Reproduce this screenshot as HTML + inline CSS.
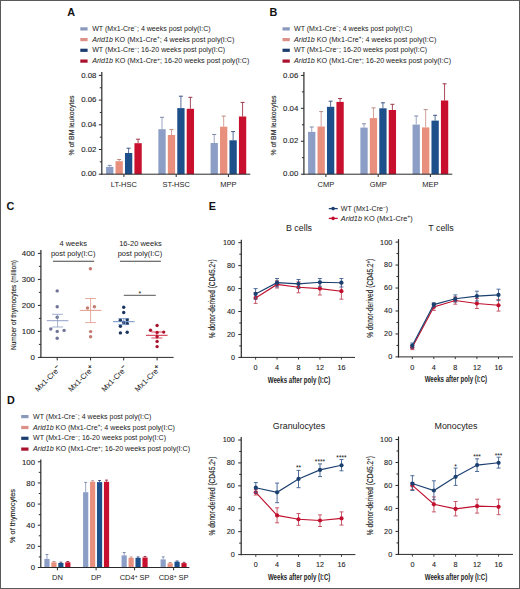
<!DOCTYPE html>
<html><head><meta charset="utf-8"><style>
html,body{margin:0;padding:0;background:#fff;}
body{width:520px;height:589px;position:relative;overflow:hidden;font-family:"Liberation Sans", sans-serif;}
</style></head><body>
<svg width="520" height="589" viewBox="0 0 520 589" style="position:absolute;left:0;top:0" font-family="'Liberation Sans', sans-serif">
<style>.tk{stroke:#2a2a2a;stroke-width:0.1px;}</style>
<rect x="0" y="0" width="520" height="589" fill="#fff"/>
<rect x="0.5" y="0.5" width="519" height="588" fill="none" stroke="#5a5a5a" stroke-width="1"/>
<text x="67.3" y="15.6" font-size="10.8" font-weight="bold" fill="#111">A</text>
<text x="269.4" y="15.6" font-size="10.8" font-weight="bold" fill="#111">B</text>
<text x="6.6" y="210.2" font-size="10.8" font-weight="bold" fill="#111">C</text>
<text x="6.9" y="404.4" font-size="10.8" font-weight="bold" fill="#111">D</text>
<text x="208.8" y="210.3" font-size="10.8" font-weight="bold" fill="#111">E</text>
<rect x="80.30" y="27.30" width="7.30" height="3.20" fill="#8a98bb"/>
<rect x="80.30" y="38.00" width="7.30" height="3.20" fill="#dc9088"/>
<rect x="80.30" y="48.70" width="7.30" height="3.20" fill="#1b3d6e"/>
<rect x="80.30" y="59.50" width="7.30" height="3.20" fill="#a8102c"/>
<text x="92.2" y="31.00" font-size="7" fill="#222" textLength="118.4" lengthAdjust="spacingAndGlyphs"><tspan>WT</tspan> (Mx1-Cre<tspan font-size="4.5" dy="-2.6">−</tspan><tspan dy="2.6">; 4 weeks post poly(I:C)</tspan></text>
<text x="92.2" y="41.70" font-size="7" fill="#222" textLength="142.2" lengthAdjust="spacingAndGlyphs"><tspan font-style="italic">Arid1b</tspan> KO (Mx1-Cre<tspan font-size="4.5" dy="-2.6">+</tspan><tspan dy="2.6">; 4 weeks post poly(I:C)</tspan></text>
<text x="92.2" y="52.40" font-size="7" fill="#222" textLength="133.0" lengthAdjust="spacingAndGlyphs"><tspan>WT</tspan> (Mx1-Cre<tspan font-size="4.5" dy="-2.6">−</tspan><tspan dy="2.6">; 16-20 weeks post poly(I:C)</tspan></text>
<text x="92.2" y="63.20" font-size="7" fill="#222" textLength="157.2" lengthAdjust="spacingAndGlyphs"><tspan font-style="italic">Arid1b</tspan> KO (Mx1-Cre<tspan font-size="4.5" dy="-2.6">+</tspan><tspan dy="2.6">; 16-20 weeks post poly(I:C)</tspan></text>
<line x1="101.80" y1="72.00" x2="101.80" y2="174.80" stroke="#2a2a2a" stroke-width="1.2"/>
<line x1="98.80" y1="174.20" x2="101.80" y2="174.20" stroke="#2a2a2a" stroke-width="1"/>
<text x="96.4" y="176.39999999999998" font-size="7.3" text-anchor="end" textLength="15.22" lengthAdjust="spacingAndGlyphs" fill="#222" class="tk">0.00</text>
<line x1="98.80" y1="149.50" x2="101.80" y2="149.50" stroke="#2a2a2a" stroke-width="1"/>
<text x="96.4" y="151.7" font-size="7.3" text-anchor="end" textLength="15.22" lengthAdjust="spacingAndGlyphs" fill="#222" class="tk">0.02</text>
<line x1="98.80" y1="124.80" x2="101.80" y2="124.80" stroke="#2a2a2a" stroke-width="1"/>
<text x="96.4" y="126.99999999999999" font-size="7.3" text-anchor="end" textLength="15.22" lengthAdjust="spacingAndGlyphs" fill="#222" class="tk">0.04</text>
<line x1="98.80" y1="100.10" x2="101.80" y2="100.10" stroke="#2a2a2a" stroke-width="1"/>
<text x="96.4" y="102.3" font-size="7.3" text-anchor="end" textLength="15.22" lengthAdjust="spacingAndGlyphs" fill="#222" class="tk">0.06</text>
<line x1="98.80" y1="75.40" x2="101.80" y2="75.40" stroke="#2a2a2a" stroke-width="1"/>
<text x="96.4" y="77.6" font-size="7.3" text-anchor="end" textLength="15.22" lengthAdjust="spacingAndGlyphs" fill="#222" class="tk">0.08</text>
<line x1="99.80" y1="161.85" x2="101.80" y2="161.85" stroke="#2a2a2a" stroke-width="1"/>
<line x1="99.80" y1="137.15" x2="101.80" y2="137.15" stroke="#2a2a2a" stroke-width="1"/>
<line x1="99.80" y1="112.45" x2="101.80" y2="112.45" stroke="#2a2a2a" stroke-width="1"/>
<line x1="99.80" y1="87.75" x2="101.80" y2="87.75" stroke="#2a2a2a" stroke-width="1"/>
<line x1="109.73" y1="165.40" x2="109.73" y2="166.90" stroke="#9aa6c4" stroke-width="1.0"/>
<line x1="107.73" y1="165.40" x2="111.73" y2="165.40" stroke="#7f8aa8" stroke-width="1.0"/>
<rect x="106.08" y="166.90" width="7.30" height="7.30" fill="#8c9ec6"/>
<line x1="119.18" y1="159.50" x2="119.18" y2="161.20" stroke="#d4a098" stroke-width="1.0"/>
<line x1="117.18" y1="159.50" x2="121.18" y2="159.50" stroke="#b88c84" stroke-width="1.0"/>
<rect x="115.53" y="161.20" width="7.30" height="13.00" fill="#e88f7e"/>
<line x1="128.62" y1="148.20" x2="128.62" y2="153.00" stroke="#5a6f98" stroke-width="1.0"/>
<line x1="126.62" y1="148.20" x2="130.62" y2="148.20" stroke="#3e5580" stroke-width="1.0"/>
<rect x="124.97" y="153.00" width="7.30" height="21.20" fill="#1d4f8b"/>
<line x1="138.08" y1="139.20" x2="138.08" y2="143.20" stroke="#a8485a" stroke-width="1.0"/>
<line x1="136.08" y1="139.20" x2="140.08" y2="139.20" stroke="#98384a" stroke-width="1.0"/>
<rect x="134.43" y="143.20" width="7.30" height="31.00" fill="#c8102e"/>
<line x1="162.02" y1="117.30" x2="162.02" y2="129.20" stroke="#9aa6c4" stroke-width="1.0"/>
<line x1="160.02" y1="117.30" x2="164.02" y2="117.30" stroke="#7f8aa8" stroke-width="1.0"/>
<rect x="158.37" y="129.20" width="7.30" height="45.00" fill="#8c9ec6"/>
<line x1="171.47" y1="129.60" x2="171.47" y2="135.00" stroke="#d4a098" stroke-width="1.0"/>
<line x1="169.47" y1="129.60" x2="173.47" y2="129.60" stroke="#b88c84" stroke-width="1.0"/>
<rect x="167.82" y="135.00" width="7.30" height="39.20" fill="#e88f7e"/>
<line x1="180.92" y1="96.20" x2="180.92" y2="108.10" stroke="#5a6f98" stroke-width="1.0"/>
<line x1="178.92" y1="96.20" x2="182.92" y2="96.20" stroke="#3e5580" stroke-width="1.0"/>
<rect x="177.27" y="108.10" width="7.30" height="66.10" fill="#1d4f8b"/>
<line x1="190.38" y1="97.30" x2="190.38" y2="108.80" stroke="#a8485a" stroke-width="1.0"/>
<line x1="188.38" y1="97.30" x2="192.38" y2="97.30" stroke="#98384a" stroke-width="1.0"/>
<rect x="186.72" y="108.80" width="7.30" height="65.40" fill="#c8102e"/>
<line x1="214.22" y1="134.50" x2="214.22" y2="143.00" stroke="#9aa6c4" stroke-width="1.0"/>
<line x1="212.22" y1="134.50" x2="216.22" y2="134.50" stroke="#7f8aa8" stroke-width="1.0"/>
<rect x="210.57" y="143.00" width="7.30" height="31.20" fill="#8c9ec6"/>
<line x1="223.68" y1="116.10" x2="223.68" y2="126.70" stroke="#d4a098" stroke-width="1.0"/>
<line x1="221.68" y1="116.10" x2="225.68" y2="116.10" stroke="#b88c84" stroke-width="1.0"/>
<rect x="220.03" y="126.70" width="7.30" height="47.50" fill="#e88f7e"/>
<line x1="233.12" y1="131.60" x2="233.12" y2="140.30" stroke="#5a6f98" stroke-width="1.0"/>
<line x1="231.12" y1="131.60" x2="235.12" y2="131.60" stroke="#3e5580" stroke-width="1.0"/>
<rect x="229.47" y="140.30" width="7.30" height="33.90" fill="#1d4f8b"/>
<line x1="242.58" y1="102.40" x2="242.58" y2="116.50" stroke="#a8485a" stroke-width="1.0"/>
<line x1="240.58" y1="102.40" x2="244.58" y2="102.40" stroke="#98384a" stroke-width="1.0"/>
<rect x="238.93" y="116.50" width="7.30" height="57.70" fill="#c8102e"/>
<line x1="101.50" y1="174.20" x2="250.30" y2="174.20" stroke="#2a2a2a" stroke-width="1"/>
<line x1="123.90" y1="174.20" x2="123.90" y2="177.00" stroke="#2a2a2a" stroke-width="1"/>
<line x1="176.20" y1="174.20" x2="176.20" y2="177.00" stroke="#2a2a2a" stroke-width="1"/>
<line x1="228.40" y1="174.20" x2="228.40" y2="177.00" stroke="#2a2a2a" stroke-width="1"/>
<text x="123.9" y="186.5" font-size="7.5" text-anchor="middle" fill="#222">LT-HSC</text>
<text x="176.2" y="186.5" font-size="7.5" text-anchor="middle" fill="#222">ST-HSC</text>
<text x="228.4" y="186.5" font-size="7.5" text-anchor="middle" fill="#222">MPP</text>
<text transform="translate(73.9,125.5) rotate(-90)" font-size="8" stroke="#333" stroke-width="0.15" text-anchor="middle" textLength="60" lengthAdjust="spacingAndGlyphs" fill="#222">% of BM leukocytes</text>
<rect x="282.50" y="27.30" width="7.30" height="3.20" fill="#8a98bb"/>
<rect x="282.50" y="38.00" width="7.30" height="3.20" fill="#dc9088"/>
<rect x="282.50" y="48.70" width="7.30" height="3.20" fill="#1b3d6e"/>
<rect x="282.50" y="59.50" width="7.30" height="3.20" fill="#a8102c"/>
<text x="294.0" y="31.00" font-size="7" fill="#222" textLength="118.3" lengthAdjust="spacingAndGlyphs"><tspan>WT</tspan> (Mx1-Cre<tspan font-size="4.5" dy="-2.6">−</tspan><tspan dy="2.6">; 4 weeks post poly(I:C)</tspan></text>
<text x="294.0" y="41.70" font-size="7" fill="#222" textLength="142.4" lengthAdjust="spacingAndGlyphs"><tspan font-style="italic">Arid1b</tspan> KO (Mx1-Cre<tspan font-size="4.5" dy="-2.6">+</tspan><tspan dy="2.6">; 4 weeks post poly(I:C)</tspan></text>
<text x="294.0" y="52.40" font-size="7" fill="#222" textLength="133.2" lengthAdjust="spacingAndGlyphs"><tspan>WT</tspan> (Mx1-Cre<tspan font-size="4.5" dy="-2.6">−</tspan><tspan dy="2.6">; 16-20 weeks post poly(I:C)</tspan></text>
<text x="294.0" y="63.20" font-size="7" fill="#222" textLength="157.2" lengthAdjust="spacingAndGlyphs"><tspan font-style="italic">Arid1b</tspan> KO (Mx1-Cre<tspan font-size="4.5" dy="-2.6">+</tspan><tspan dy="2.6">; 16-20 weeks post poly(I:C)</tspan></text>
<line x1="303.90" y1="72.00" x2="303.90" y2="174.80" stroke="#2a2a2a" stroke-width="1.2"/>
<line x1="300.90" y1="174.20" x2="303.90" y2="174.20" stroke="#2a2a2a" stroke-width="1"/>
<text x="298.3" y="176.39999999999998" font-size="7.3" text-anchor="end" textLength="15.22" lengthAdjust="spacingAndGlyphs" fill="#222" class="tk">0.00</text>
<line x1="300.90" y1="141.27" x2="303.90" y2="141.27" stroke="#2a2a2a" stroke-width="1"/>
<text x="298.3" y="143.46999999999997" font-size="7.3" text-anchor="end" textLength="15.22" lengthAdjust="spacingAndGlyphs" fill="#222" class="tk">0.02</text>
<line x1="300.90" y1="108.34" x2="303.90" y2="108.34" stroke="#2a2a2a" stroke-width="1"/>
<text x="298.3" y="110.53999999999999" font-size="7.3" text-anchor="end" textLength="15.22" lengthAdjust="spacingAndGlyphs" fill="#222" class="tk">0.04</text>
<line x1="300.90" y1="75.41" x2="303.90" y2="75.41" stroke="#2a2a2a" stroke-width="1"/>
<text x="298.3" y="77.61" font-size="7.3" text-anchor="end" textLength="15.22" lengthAdjust="spacingAndGlyphs" fill="#222" class="tk">0.06</text>
<line x1="301.90" y1="157.73" x2="303.90" y2="157.73" stroke="#2a2a2a" stroke-width="1"/>
<line x1="301.90" y1="124.80" x2="303.90" y2="124.80" stroke="#2a2a2a" stroke-width="1"/>
<line x1="301.90" y1="91.87" x2="303.90" y2="91.87" stroke="#2a2a2a" stroke-width="1"/>
<line x1="311.72" y1="127.00" x2="311.72" y2="131.90" stroke="#9aa6c4" stroke-width="1.0"/>
<line x1="309.72" y1="127.00" x2="313.72" y2="127.00" stroke="#7f8aa8" stroke-width="1.0"/>
<rect x="308.07" y="131.90" width="7.30" height="42.30" fill="#8c9ec6"/>
<line x1="321.17" y1="111.60" x2="321.17" y2="126.50" stroke="#d4a098" stroke-width="1.0"/>
<line x1="319.17" y1="111.60" x2="323.17" y2="111.60" stroke="#b88c84" stroke-width="1.0"/>
<rect x="317.52" y="126.50" width="7.30" height="47.70" fill="#e88f7e"/>
<line x1="330.62" y1="101.20" x2="330.62" y2="106.80" stroke="#5a6f98" stroke-width="1.0"/>
<line x1="328.62" y1="101.20" x2="332.62" y2="101.20" stroke="#3e5580" stroke-width="1.0"/>
<rect x="326.98" y="106.80" width="7.30" height="67.40" fill="#1d4f8b"/>
<line x1="340.07" y1="98.50" x2="340.07" y2="101.90" stroke="#a8485a" stroke-width="1.0"/>
<line x1="338.07" y1="98.50" x2="342.07" y2="98.50" stroke="#98384a" stroke-width="1.0"/>
<rect x="336.43" y="101.90" width="7.30" height="72.30" fill="#c8102e"/>
<line x1="364.02" y1="123.80" x2="364.02" y2="127.60" stroke="#9aa6c4" stroke-width="1.0"/>
<line x1="362.02" y1="123.80" x2="366.02" y2="123.80" stroke="#7f8aa8" stroke-width="1.0"/>
<rect x="360.38" y="127.60" width="7.30" height="46.60" fill="#8c9ec6"/>
<line x1="373.47" y1="107.90" x2="373.47" y2="118.10" stroke="#d4a098" stroke-width="1.0"/>
<line x1="371.47" y1="107.90" x2="375.47" y2="107.90" stroke="#b88c84" stroke-width="1.0"/>
<rect x="369.82" y="118.10" width="7.30" height="56.10" fill="#e88f7e"/>
<line x1="382.93" y1="102.80" x2="382.93" y2="108.30" stroke="#5a6f98" stroke-width="1.0"/>
<line x1="380.93" y1="102.80" x2="384.93" y2="102.80" stroke="#3e5580" stroke-width="1.0"/>
<rect x="379.28" y="108.30" width="7.30" height="65.90" fill="#1d4f8b"/>
<line x1="392.38" y1="104.30" x2="392.38" y2="110.00" stroke="#a8485a" stroke-width="1.0"/>
<line x1="390.38" y1="104.30" x2="394.38" y2="104.30" stroke="#98384a" stroke-width="1.0"/>
<rect x="388.73" y="110.00" width="7.30" height="64.20" fill="#c8102e"/>
<line x1="416.22" y1="116.00" x2="416.22" y2="124.60" stroke="#9aa6c4" stroke-width="1.0"/>
<line x1="414.22" y1="116.00" x2="418.22" y2="116.00" stroke="#7f8aa8" stroke-width="1.0"/>
<rect x="412.57" y="124.60" width="7.30" height="49.60" fill="#8c9ec6"/>
<line x1="425.67" y1="109.60" x2="425.67" y2="127.40" stroke="#d4a098" stroke-width="1.0"/>
<line x1="423.67" y1="109.60" x2="427.67" y2="109.60" stroke="#b88c84" stroke-width="1.0"/>
<rect x="422.02" y="127.40" width="7.30" height="46.80" fill="#e88f7e"/>
<line x1="435.12" y1="115.30" x2="435.12" y2="120.60" stroke="#5a6f98" stroke-width="1.0"/>
<line x1="433.12" y1="115.30" x2="437.12" y2="115.30" stroke="#3e5580" stroke-width="1.0"/>
<rect x="431.48" y="120.60" width="7.30" height="53.60" fill="#1d4f8b"/>
<line x1="444.57" y1="83.80" x2="444.57" y2="100.50" stroke="#a8485a" stroke-width="1.0"/>
<line x1="442.57" y1="83.80" x2="446.57" y2="83.80" stroke="#98384a" stroke-width="1.0"/>
<rect x="440.93" y="100.50" width="7.30" height="73.70" fill="#c8102e"/>
<line x1="303.90" y1="174.20" x2="452.30" y2="174.20" stroke="#2a2a2a" stroke-width="1"/>
<line x1="325.90" y1="174.20" x2="325.90" y2="177.00" stroke="#2a2a2a" stroke-width="1"/>
<line x1="378.20" y1="174.20" x2="378.20" y2="177.00" stroke="#2a2a2a" stroke-width="1"/>
<line x1="430.40" y1="174.20" x2="430.40" y2="177.00" stroke="#2a2a2a" stroke-width="1"/>
<text x="325.9" y="186.5" font-size="7.5" text-anchor="middle" fill="#222">CMP</text>
<text x="378.2" y="186.5" font-size="7.5" text-anchor="middle" fill="#222">GMP</text>
<text x="430.4" y="186.5" font-size="7.5" text-anchor="middle" fill="#222">MEP</text>
<text transform="translate(276.0,125.5) rotate(-90)" font-size="8" stroke="#333" stroke-width="0.15" text-anchor="middle" textLength="60" lengthAdjust="spacingAndGlyphs" fill="#222">% of BM leukocytes</text>
<line x1="40.90" y1="250.00" x2="40.90" y2="358.00" stroke="#2a2a2a" stroke-width="1.2"/>
<line x1="37.90" y1="357.40" x2="40.90" y2="357.40" stroke="#2a2a2a" stroke-width="1"/>
<text x="35.0" y="360.0" font-size="7.4" text-anchor="end" textLength="4.40" lengthAdjust="spacingAndGlyphs" fill="#222" class="tk">0</text>
<line x1="37.90" y1="331.40" x2="40.90" y2="331.40" stroke="#2a2a2a" stroke-width="1"/>
<text x="35.0" y="334.0" font-size="7.4" text-anchor="end" textLength="13.20" lengthAdjust="spacingAndGlyphs" fill="#222" class="tk">100</text>
<line x1="37.90" y1="305.40" x2="40.90" y2="305.40" stroke="#2a2a2a" stroke-width="1"/>
<text x="35.0" y="308.0" font-size="7.4" text-anchor="end" textLength="13.20" lengthAdjust="spacingAndGlyphs" fill="#222" class="tk">200</text>
<line x1="37.90" y1="279.40" x2="40.90" y2="279.40" stroke="#2a2a2a" stroke-width="1"/>
<text x="35.0" y="282.0" font-size="7.4" text-anchor="end" textLength="13.20" lengthAdjust="spacingAndGlyphs" fill="#222" class="tk">300</text>
<line x1="37.90" y1="253.40" x2="40.90" y2="253.40" stroke="#2a2a2a" stroke-width="1"/>
<text x="35.0" y="255.99999999999997" font-size="7.4" text-anchor="end" textLength="13.20" lengthAdjust="spacingAndGlyphs" fill="#222" class="tk">400</text>
<line x1="38.90" y1="344.40" x2="40.90" y2="344.40" stroke="#2a2a2a" stroke-width="1"/>
<line x1="38.90" y1="318.40" x2="40.90" y2="318.40" stroke="#2a2a2a" stroke-width="1"/>
<line x1="38.90" y1="292.40" x2="40.90" y2="292.40" stroke="#2a2a2a" stroke-width="1"/>
<line x1="38.90" y1="266.40" x2="40.90" y2="266.40" stroke="#2a2a2a" stroke-width="1"/>
<line x1="40.50" y1="357.40" x2="173.60" y2="357.40" stroke="#2a2a2a" stroke-width="1"/>
<line x1="57.20" y1="357.40" x2="57.20" y2="360.40" stroke="#2a2a2a" stroke-width="1"/>
<line x1="90.60" y1="357.40" x2="90.60" y2="360.40" stroke="#2a2a2a" stroke-width="1"/>
<line x1="123.70" y1="357.40" x2="123.70" y2="360.40" stroke="#2a2a2a" stroke-width="1"/>
<line x1="157.10" y1="357.40" x2="157.10" y2="360.40" stroke="#2a2a2a" stroke-width="1"/>
<text transform="translate(15.6,305) rotate(-90)" font-size="7.8" stroke="#333" stroke-width="0.15" text-anchor="middle" textLength="90" lengthAdjust="spacingAndGlyphs" fill="#222">Number of thymocytes (million)</text>
<text x="73.2" y="246" font-size="7.5" text-anchor="middle" fill="#222">4 weeks</text>
<text x="73.2" y="255.6" font-size="7.5" text-anchor="middle" fill="#222">post poly(I:C)</text>
<line x1="52.90" y1="261.30" x2="94.20" y2="261.30" stroke="#444" stroke-width="1.1"/>
<text x="140.4" y="246.1" font-size="7.5" text-anchor="middle" fill="#222">16-20 weeks</text>
<text x="140.0" y="255.8" font-size="7.5" text-anchor="middle" fill="#222">post poly(I:C)</text>
<line x1="119.90" y1="261.20" x2="160.90" y2="261.20" stroke="#444" stroke-width="1.1"/>
<line x1="123.80" y1="295.30" x2="155.80" y2="295.30" stroke="#555" stroke-width="1.0"/>
<text x="139.8" y="296.0" font-size="6.8" text-anchor="middle" fill="#111">*</text>
<circle cx="57.20" cy="290.90" r="1.7" fill="#6f7396"/>
<circle cx="57.20" cy="306.80" r="1.7" fill="#6f7396"/>
<circle cx="57.20" cy="317.20" r="1.7" fill="#6f7396"/>
<circle cx="50.80" cy="329.00" r="1.7" fill="#6f7396"/>
<circle cx="57.20" cy="331.40" r="1.7" fill="#6f7396"/>
<circle cx="64.10" cy="330.40" r="1.7" fill="#6f7396"/>
<circle cx="57.20" cy="338.20" r="1.7" fill="#6f7396"/>
<circle cx="90.40" cy="268.70" r="1.7" fill="#c27b70"/>
<circle cx="94.40" cy="306.80" r="1.7" fill="#c27b70"/>
<circle cx="87.50" cy="308.00" r="1.7" fill="#c27b70"/>
<circle cx="90.60" cy="331.60" r="1.7" fill="#c27b70"/>
<circle cx="90.60" cy="336.80" r="1.7" fill="#c27b70"/>
<circle cx="123.70" cy="307.30" r="1.7" fill="#1b355f"/>
<circle cx="123.70" cy="312.50" r="1.7" fill="#1b355f"/>
<circle cx="120.40" cy="320.30" r="1.7" fill="#1b355f"/>
<circle cx="127.20" cy="319.80" r="1.7" fill="#1b355f"/>
<circle cx="123.70" cy="322.50" r="1.7" fill="#1b355f"/>
<circle cx="120.40" cy="326.30" r="1.7" fill="#1b355f"/>
<circle cx="127.20" cy="323.40" r="1.7" fill="#1b355f"/>
<circle cx="120.40" cy="332.90" r="1.7" fill="#1b355f"/>
<circle cx="127.20" cy="332.20" r="1.7" fill="#1b355f"/>
<circle cx="157.10" cy="325.50" r="1.7" fill="#a8132e"/>
<circle cx="150.50" cy="330.20" r="1.7" fill="#a8132e"/>
<circle cx="157.10" cy="332.40" r="1.7" fill="#a8132e"/>
<circle cx="163.70" cy="332.10" r="1.7" fill="#a8132e"/>
<circle cx="157.10" cy="336.70" r="1.7" fill="#a8132e"/>
<circle cx="157.10" cy="341.40" r="1.7" fill="#a8132e"/>
<circle cx="157.10" cy="346.60" r="1.7" fill="#a8132e"/>
<line x1="46.80" y1="320.70" x2="68.40" y2="320.70" stroke="#8595c0" stroke-width="0.9"/>
<line x1="57.60" y1="314.30" x2="57.60" y2="327.00" stroke="#8595c0" stroke-width="0.75"/>
<line x1="52.10" y1="314.30" x2="63.10" y2="314.30" stroke="#8595c0" stroke-width="0.75"/>
<line x1="52.10" y1="327.00" x2="63.10" y2="327.00" stroke="#8595c0" stroke-width="0.75"/>
<line x1="79.80" y1="310.40" x2="101.40" y2="310.40" stroke="#e0907e" stroke-width="0.9"/>
<line x1="90.60" y1="298.50" x2="90.60" y2="322.60" stroke="#e0907e" stroke-width="0.75"/>
<line x1="85.10" y1="298.50" x2="96.10" y2="298.50" stroke="#e0907e" stroke-width="0.75"/>
<line x1="85.10" y1="322.60" x2="96.10" y2="322.60" stroke="#e0907e" stroke-width="0.75"/>
<line x1="113.00" y1="321.70" x2="134.60" y2="321.70" stroke="#5f86bd" stroke-width="0.9"/>
<line x1="123.80" y1="318.60" x2="123.80" y2="324.60" stroke="#5f86bd" stroke-width="0.75"/>
<line x1="118.30" y1="318.60" x2="129.30" y2="318.60" stroke="#5f86bd" stroke-width="0.75"/>
<line x1="118.30" y1="324.60" x2="129.30" y2="324.60" stroke="#5f86bd" stroke-width="0.75"/>
<line x1="146.00" y1="335.30" x2="167.60" y2="335.30" stroke="#c8102e" stroke-width="0.9"/>
<line x1="156.80" y1="332.00" x2="156.80" y2="338.00" stroke="#c8102e" stroke-width="0.75"/>
<line x1="151.30" y1="332.00" x2="162.30" y2="332.00" stroke="#c8102e" stroke-width="0.75"/>
<line x1="151.30" y1="338.00" x2="162.30" y2="338.00" stroke="#c8102e" stroke-width="0.75"/>
<text transform="translate(61.2,369.0) rotate(-45)" font-size="7.6" text-anchor="end" fill="#222">Mx1-Cre<tspan font-size="6.4" dy="-2.9" stroke="#222" stroke-width="0.25">−</tspan></text>
<text transform="translate(94.6,369.0) rotate(-45)" font-size="7.6" text-anchor="end" fill="#222">Mx1-Cre<tspan font-size="6.4" dy="-2.9" stroke="#222" stroke-width="0.25">+</tspan></text>
<text transform="translate(127.7,369.0) rotate(-45)" font-size="7.6" text-anchor="end" fill="#222">Mx1-Cre<tspan font-size="6.4" dy="-2.9" stroke="#222" stroke-width="0.25">−</tspan></text>
<text transform="translate(161.1,369.0) rotate(-45)" font-size="7.6" text-anchor="end" fill="#222">Mx1-Cre<tspan font-size="6.4" dy="-2.9" stroke="#222" stroke-width="0.25">+</tspan></text>
<rect x="21.20" y="415.00" width="7.30" height="3.20" fill="#8a98bb"/>
<rect x="21.20" y="425.90" width="7.30" height="3.20" fill="#dc9088"/>
<rect x="21.20" y="436.70" width="7.30" height="3.20" fill="#1b3d6e"/>
<rect x="21.20" y="447.50" width="7.30" height="3.20" fill="#a8102c"/>
<text x="33.0" y="418.70" font-size="7" fill="#222" textLength="118.4" lengthAdjust="spacingAndGlyphs"><tspan>WT</tspan> (Mx1-Cre<tspan font-size="4.5" dy="-2.6">−</tspan><tspan dy="2.6">; 4 weeks post poly(I:C)</tspan></text>
<text x="33.0" y="429.60" font-size="7" fill="#222" textLength="142.0" lengthAdjust="spacingAndGlyphs"><tspan font-style="italic">Arid1b</tspan> KO (Mx1-Cre<tspan font-size="4.5" dy="-2.6">+</tspan><tspan dy="2.6">; 4 weeks post poly(I:C)</tspan></text>
<text x="33.0" y="440.40" font-size="7" fill="#222" textLength="133.0" lengthAdjust="spacingAndGlyphs"><tspan>WT</tspan> (Mx1-Cre<tspan font-size="4.5" dy="-2.6">−</tspan><tspan dy="2.6">; 16-20 weeks post poly(I:C)</tspan></text>
<text x="33.0" y="451.20" font-size="7" fill="#222" textLength="157.2" lengthAdjust="spacingAndGlyphs"><tspan font-style="italic">Arid1b</tspan> KO (Mx1-Cre<tspan font-size="4.5" dy="-2.6">+</tspan><tspan dy="2.6">; 16-20 weeks post poly(I:C)</tspan></text>
<line x1="40.80" y1="459.40" x2="40.80" y2="568.10" stroke="#2a2a2a" stroke-width="1.2"/>
<line x1="37.80" y1="567.50" x2="40.80" y2="567.50" stroke="#2a2a2a" stroke-width="1"/>
<text x="35.0" y="570.3" font-size="7.4" text-anchor="end" textLength="4.33" lengthAdjust="spacingAndGlyphs" fill="#222" class="tk">0</text>
<line x1="37.80" y1="546.36" x2="40.80" y2="546.36" stroke="#2a2a2a" stroke-width="1"/>
<text x="35.0" y="549.16" font-size="7.4" text-anchor="end" textLength="8.66" lengthAdjust="spacingAndGlyphs" fill="#222" class="tk">20</text>
<line x1="37.80" y1="525.22" x2="40.80" y2="525.22" stroke="#2a2a2a" stroke-width="1"/>
<text x="35.0" y="528.02" font-size="7.4" text-anchor="end" textLength="8.66" lengthAdjust="spacingAndGlyphs" fill="#222" class="tk">40</text>
<line x1="37.80" y1="504.08" x2="40.80" y2="504.08" stroke="#2a2a2a" stroke-width="1"/>
<text x="35.0" y="506.88" font-size="7.4" text-anchor="end" textLength="8.66" lengthAdjust="spacingAndGlyphs" fill="#222" class="tk">60</text>
<line x1="37.80" y1="482.94" x2="40.80" y2="482.94" stroke="#2a2a2a" stroke-width="1"/>
<text x="35.0" y="485.74" font-size="7.4" text-anchor="end" textLength="8.66" lengthAdjust="spacingAndGlyphs" fill="#222" class="tk">80</text>
<line x1="37.80" y1="461.80" x2="40.80" y2="461.80" stroke="#2a2a2a" stroke-width="1"/>
<text x="35.0" y="464.6" font-size="7.4" text-anchor="end" textLength="12.99" lengthAdjust="spacingAndGlyphs" fill="#222" class="tk">100</text>
<line x1="38.80" y1="556.93" x2="40.80" y2="556.93" stroke="#2a2a2a" stroke-width="1"/>
<line x1="38.80" y1="535.79" x2="40.80" y2="535.79" stroke="#2a2a2a" stroke-width="1"/>
<line x1="38.80" y1="514.65" x2="40.80" y2="514.65" stroke="#2a2a2a" stroke-width="1"/>
<line x1="38.80" y1="493.51" x2="40.80" y2="493.51" stroke="#2a2a2a" stroke-width="1"/>
<line x1="38.80" y1="472.37" x2="40.80" y2="472.37" stroke="#2a2a2a" stroke-width="1"/>
<line x1="46.97" y1="554.50" x2="46.97" y2="558.90" stroke="#9aa6c4" stroke-width="1.0"/>
<line x1="45.57" y1="554.50" x2="48.37" y2="554.50" stroke="#7f8aa8" stroke-width="1.0"/>
<rect x="44.37" y="558.90" width="5.20" height="8.60" fill="#8c9ec6"/>
<line x1="53.92" y1="561.50" x2="53.92" y2="562.30" stroke="#d4a098" stroke-width="1.0"/>
<line x1="52.52" y1="561.50" x2="55.32" y2="561.50" stroke="#b88c84" stroke-width="1.0"/>
<rect x="51.32" y="562.30" width="5.20" height="5.20" fill="#e88f7e"/>
<line x1="60.88" y1="562.20" x2="60.88" y2="563.00" stroke="#5a6f98" stroke-width="1.0"/>
<line x1="59.48" y1="562.20" x2="62.27" y2="562.20" stroke="#3e5580" stroke-width="1.0"/>
<rect x="58.27" y="563.00" width="5.20" height="4.50" fill="#1d4f8b"/>
<line x1="67.83" y1="561.50" x2="67.83" y2="562.30" stroke="#a8485a" stroke-width="1.0"/>
<line x1="66.42" y1="561.50" x2="69.23" y2="561.50" stroke="#98384a" stroke-width="1.0"/>
<rect x="65.23" y="562.30" width="5.20" height="5.20" fill="#c8102e"/>
<line x1="85.67" y1="482.40" x2="85.67" y2="492.20" stroke="#9aa6c4" stroke-width="1.0"/>
<line x1="84.27" y1="482.40" x2="87.08" y2="482.40" stroke="#7f8aa8" stroke-width="1.0"/>
<rect x="83.08" y="492.20" width="5.20" height="75.30" fill="#8c9ec6"/>
<line x1="92.62" y1="480.80" x2="92.62" y2="481.80" stroke="#d4a098" stroke-width="1.0"/>
<line x1="91.22" y1="480.80" x2="94.03" y2="480.80" stroke="#b88c84" stroke-width="1.0"/>
<rect x="90.03" y="481.80" width="5.20" height="85.70" fill="#e88f7e"/>
<line x1="99.57" y1="480.50" x2="99.57" y2="482.10" stroke="#5a6f98" stroke-width="1.0"/>
<line x1="98.17" y1="480.50" x2="100.97" y2="480.50" stroke="#3e5580" stroke-width="1.0"/>
<rect x="96.97" y="482.10" width="5.20" height="85.40" fill="#1d4f8b"/>
<line x1="106.52" y1="480.10" x2="106.52" y2="481.80" stroke="#a8485a" stroke-width="1.0"/>
<line x1="105.12" y1="480.10" x2="107.92" y2="480.10" stroke="#98384a" stroke-width="1.0"/>
<rect x="103.92" y="481.80" width="5.20" height="85.70" fill="#c8102e"/>
<line x1="124.17" y1="552.50" x2="124.17" y2="555.40" stroke="#9aa6c4" stroke-width="1.0"/>
<line x1="122.77" y1="552.50" x2="125.58" y2="552.50" stroke="#7f8aa8" stroke-width="1.0"/>
<rect x="121.58" y="555.40" width="5.20" height="12.10" fill="#8c9ec6"/>
<line x1="131.12" y1="557.00" x2="131.12" y2="557.90" stroke="#d4a098" stroke-width="1.0"/>
<line x1="129.72" y1="557.00" x2="132.53" y2="557.00" stroke="#b88c84" stroke-width="1.0"/>
<rect x="128.53" y="557.90" width="5.20" height="9.60" fill="#e88f7e"/>
<line x1="138.07" y1="557.00" x2="138.07" y2="557.90" stroke="#5a6f98" stroke-width="1.0"/>
<line x1="136.67" y1="557.00" x2="139.47" y2="557.00" stroke="#3e5580" stroke-width="1.0"/>
<rect x="135.47" y="557.90" width="5.20" height="9.60" fill="#1d4f8b"/>
<line x1="145.03" y1="556.50" x2="145.03" y2="557.50" stroke="#a8485a" stroke-width="1.0"/>
<line x1="143.62" y1="556.50" x2="146.43" y2="556.50" stroke="#98384a" stroke-width="1.0"/>
<rect x="142.43" y="557.50" width="5.20" height="10.00" fill="#c8102e"/>
<line x1="163.17" y1="556.90" x2="163.17" y2="559.40" stroke="#9aa6c4" stroke-width="1.0"/>
<line x1="161.77" y1="556.90" x2="164.57" y2="556.90" stroke="#7f8aa8" stroke-width="1.0"/>
<rect x="160.57" y="559.40" width="5.20" height="8.10" fill="#8c9ec6"/>
<line x1="170.12" y1="562.50" x2="170.12" y2="563.30" stroke="#d4a098" stroke-width="1.0"/>
<line x1="168.72" y1="562.50" x2="171.53" y2="562.50" stroke="#b88c84" stroke-width="1.0"/>
<rect x="167.53" y="563.30" width="5.20" height="4.20" fill="#e88f7e"/>
<line x1="177.07" y1="561.00" x2="177.07" y2="561.70" stroke="#5a6f98" stroke-width="1.0"/>
<line x1="175.67" y1="561.00" x2="178.47" y2="561.00" stroke="#3e5580" stroke-width="1.0"/>
<rect x="174.47" y="561.70" width="5.20" height="5.80" fill="#1d4f8b"/>
<line x1="184.03" y1="562.30" x2="184.03" y2="563.10" stroke="#a8485a" stroke-width="1.0"/>
<line x1="182.62" y1="562.30" x2="185.43" y2="562.30" stroke="#98384a" stroke-width="1.0"/>
<rect x="181.43" y="563.10" width="5.20" height="4.40" fill="#c8102e"/>
<line x1="40.80" y1="567.50" x2="189.40" y2="567.50" stroke="#2a2a2a" stroke-width="1"/>
<line x1="57.40" y1="567.50" x2="57.40" y2="570.30" stroke="#2a2a2a" stroke-width="1"/>
<line x1="96.10" y1="567.50" x2="96.10" y2="570.30" stroke="#2a2a2a" stroke-width="1"/>
<line x1="134.60" y1="567.50" x2="134.60" y2="570.30" stroke="#2a2a2a" stroke-width="1"/>
<line x1="173.60" y1="567.50" x2="173.60" y2="570.30" stroke="#2a2a2a" stroke-width="1"/>
<text x="57.4" y="580.3" font-size="7.5" text-anchor="middle" fill="#222">DN</text>
<text x="96.1" y="580.3" font-size="7.5" text-anchor="middle" fill="#222">DP</text>
<text x="134.6" y="580.3" font-size="7.5" text-anchor="middle" fill="#222">CD4<tspan font-size="4.8" dy="-2.8">+</tspan><tspan dy="2.8"> SP</tspan></text>
<text x="173.6" y="580.3" font-size="7.5" text-anchor="middle" fill="#222">CD8<tspan font-size="4.8" dy="-2.8">+</tspan><tspan dy="2.8"> SP</tspan></text>
<text transform="translate(15.2,516) rotate(-90)" font-size="7.8" stroke="#333" stroke-width="0.15" text-anchor="middle" textLength="54" lengthAdjust="spacingAndGlyphs" fill="#222">% of thymocytes</text>
<line x1="328.80" y1="208.60" x2="337.70" y2="208.60" stroke="#1b4070" stroke-width="1.3"/>
<circle cx="333.10" cy="208.60" r="1.8" fill="#1b4070"/>
<text x="340.8" y="210.79999999999998" font-size="6.4" fill="#222" textLength="47.4" lengthAdjust="spacingAndGlyphs">WT (Mx1-Cre<tspan font-size="4.5" dy="-2.3">−</tspan><tspan dy="2.3">)</tspan></text>
<line x1="328.80" y1="218.40" x2="337.70" y2="218.40" stroke="#c0102e" stroke-width="1.3"/>
<circle cx="333.10" cy="218.40" r="1.8" fill="#c0102e"/>
<text x="340.8" y="220.6" font-size="6.4" fill="#222" textLength="72.0" lengthAdjust="spacingAndGlyphs"><tspan font-style="italic">Arid1b</tspan> KO (Mx1-Cre<tspan font-size="4.5" dy="-2.3">+</tspan><tspan dy="2.3">)</tspan></text>
<line x1="241.30" y1="239.70" x2="241.30" y2="358.00" stroke="#2a2a2a" stroke-width="1.2"/>
<line x1="238.30" y1="357.40" x2="241.30" y2="357.40" stroke="#2a2a2a" stroke-width="1"/>
<text x="235.0" y="359.79999999999995" font-size="6.8" text-anchor="end" textLength="4.03" lengthAdjust="spacingAndGlyphs" fill="#222" class="tk">0</text>
<line x1="238.30" y1="334.46" x2="241.30" y2="334.46" stroke="#2a2a2a" stroke-width="1"/>
<text x="235.0" y="336.85999999999996" font-size="6.8" text-anchor="end" textLength="8.06" lengthAdjust="spacingAndGlyphs" fill="#222" class="tk">20</text>
<line x1="238.30" y1="311.52" x2="241.30" y2="311.52" stroke="#2a2a2a" stroke-width="1"/>
<text x="235.0" y="313.91999999999996" font-size="6.8" text-anchor="end" textLength="8.06" lengthAdjust="spacingAndGlyphs" fill="#222" class="tk">40</text>
<line x1="238.30" y1="288.58" x2="241.30" y2="288.58" stroke="#2a2a2a" stroke-width="1"/>
<text x="235.0" y="290.97999999999996" font-size="6.8" text-anchor="end" textLength="8.06" lengthAdjust="spacingAndGlyphs" fill="#222" class="tk">60</text>
<line x1="238.30" y1="265.64" x2="241.30" y2="265.64" stroke="#2a2a2a" stroke-width="1"/>
<text x="235.0" y="268.03999999999996" font-size="6.8" text-anchor="end" textLength="8.06" lengthAdjust="spacingAndGlyphs" fill="#222" class="tk">80</text>
<line x1="238.30" y1="242.70" x2="241.30" y2="242.70" stroke="#2a2a2a" stroke-width="1"/>
<text x="235.0" y="245.1" font-size="6.8" text-anchor="end" textLength="12.09" lengthAdjust="spacingAndGlyphs" fill="#222" class="tk">100</text>
<line x1="239.30" y1="345.93" x2="241.30" y2="345.93" stroke="#2a2a2a" stroke-width="1"/>
<line x1="239.30" y1="322.99" x2="241.30" y2="322.99" stroke="#2a2a2a" stroke-width="1"/>
<line x1="239.30" y1="300.05" x2="241.30" y2="300.05" stroke="#2a2a2a" stroke-width="1"/>
<line x1="239.30" y1="277.11" x2="241.30" y2="277.11" stroke="#2a2a2a" stroke-width="1"/>
<line x1="239.30" y1="254.17" x2="241.30" y2="254.17" stroke="#2a2a2a" stroke-width="1"/>
<line x1="241.30" y1="357.40" x2="355.00" y2="357.40" stroke="#2a2a2a" stroke-width="1"/>
<line x1="255.60" y1="357.40" x2="255.60" y2="359.60" stroke="#2a2a2a" stroke-width="0.9"/>
<text x="255.6" y="370.09999999999997" font-size="6.8" text-anchor="middle" textLength="4.0" lengthAdjust="spacingAndGlyphs" fill="#222" class="tk">0</text>
<line x1="277.00" y1="357.40" x2="277.00" y2="359.60" stroke="#2a2a2a" stroke-width="0.9"/>
<text x="277.0" y="370.09999999999997" font-size="6.8" text-anchor="middle" textLength="4.0" lengthAdjust="spacingAndGlyphs" fill="#222" class="tk">4</text>
<line x1="298.50" y1="357.40" x2="298.50" y2="359.60" stroke="#2a2a2a" stroke-width="0.9"/>
<text x="298.5" y="370.09999999999997" font-size="6.8" text-anchor="middle" textLength="4.0" lengthAdjust="spacingAndGlyphs" fill="#222" class="tk">8</text>
<line x1="319.90" y1="357.40" x2="319.90" y2="359.60" stroke="#2a2a2a" stroke-width="0.9"/>
<text x="319.9" y="370.09999999999997" font-size="6.8" text-anchor="middle" textLength="8.0" lengthAdjust="spacingAndGlyphs" fill="#222" class="tk">12</text>
<line x1="341.40" y1="357.40" x2="341.40" y2="359.60" stroke="#2a2a2a" stroke-width="0.9"/>
<text x="341.4" y="370.09999999999997" font-size="6.8" text-anchor="middle" textLength="8.0" lengthAdjust="spacingAndGlyphs" fill="#222" class="tk">16</text>
<text x="299.0" y="382.9" font-size="8.2" font-weight="bold" text-anchor="middle" textLength="62.4" lengthAdjust="spacingAndGlyphs" fill="#222">Weeks after poly (I:C)</text>
<text transform="translate(215.4,298.74999999999994) rotate(-90)" font-size="8.6" stroke="#333" stroke-width="0.15" text-anchor="middle" textLength="79" lengthAdjust="spacingAndGlyphs" fill="#222">% donor-derived (CD45.2<tspan font-size="5.5" dy="-2.6">+</tspan><tspan dy="2.6">)</tspan></text>
<text x="299" y="231.3" font-size="8.9" text-anchor="middle" fill="#222">B cells</text>
<polyline points="255.60,297.90 277.00,284.40 298.50,287.30 319.90,288.60 341.40,291.20" fill="none" stroke="#c0102e" stroke-width="1.15"/>
<line x1="255.60" y1="292.50" x2="255.60" y2="303.40" stroke="#c24a5c" stroke-width="0.9"/>
<line x1="253.60" y1="292.50" x2="257.60" y2="292.50" stroke="#c24a5c" stroke-width="0.9"/>
<line x1="253.60" y1="303.40" x2="257.60" y2="303.40" stroke="#c24a5c" stroke-width="0.9"/>
<circle cx="255.60" cy="297.90" r="2.1" fill="#c0102e"/>
<line x1="277.00" y1="280.80" x2="277.00" y2="288.00" stroke="#c24a5c" stroke-width="0.9"/>
<line x1="275.00" y1="280.80" x2="279.00" y2="280.80" stroke="#c24a5c" stroke-width="0.9"/>
<line x1="275.00" y1="288.00" x2="279.00" y2="288.00" stroke="#c24a5c" stroke-width="0.9"/>
<circle cx="277.00" cy="284.40" r="2.1" fill="#c0102e"/>
<line x1="298.50" y1="281.80" x2="298.50" y2="292.80" stroke="#c24a5c" stroke-width="0.9"/>
<line x1="296.50" y1="281.80" x2="300.50" y2="281.80" stroke="#c24a5c" stroke-width="0.9"/>
<line x1="296.50" y1="292.80" x2="300.50" y2="292.80" stroke="#c24a5c" stroke-width="0.9"/>
<circle cx="298.50" cy="287.30" r="2.1" fill="#c0102e"/>
<line x1="319.90" y1="282.20" x2="319.90" y2="295.00" stroke="#c24a5c" stroke-width="0.9"/>
<line x1="317.90" y1="282.20" x2="321.90" y2="282.20" stroke="#c24a5c" stroke-width="0.9"/>
<line x1="317.90" y1="295.00" x2="321.90" y2="295.00" stroke="#c24a5c" stroke-width="0.9"/>
<circle cx="319.90" cy="288.60" r="2.1" fill="#c0102e"/>
<line x1="341.40" y1="283.20" x2="341.40" y2="299.20" stroke="#c24a5c" stroke-width="0.9"/>
<line x1="339.40" y1="283.20" x2="343.40" y2="283.20" stroke="#c24a5c" stroke-width="0.9"/>
<line x1="339.40" y1="299.20" x2="343.40" y2="299.20" stroke="#c24a5c" stroke-width="0.9"/>
<circle cx="341.40" cy="291.20" r="2.1" fill="#c0102e"/>
<polyline points="255.60,293.90 277.00,282.70 298.50,283.80 319.90,282.30 341.40,282.70" fill="none" stroke="#1b4070" stroke-width="1.15"/>
<line x1="255.60" y1="288.60" x2="255.60" y2="299.00" stroke="#3d6090" stroke-width="0.9"/>
<line x1="253.60" y1="288.60" x2="257.60" y2="288.60" stroke="#3d6090" stroke-width="0.9"/>
<line x1="253.60" y1="299.00" x2="257.60" y2="299.00" stroke="#3d6090" stroke-width="0.9"/>
<circle cx="255.60" cy="293.90" r="2.1" fill="#1b4070"/>
<line x1="277.00" y1="278.50" x2="277.00" y2="286.80" stroke="#3d6090" stroke-width="0.9"/>
<line x1="275.00" y1="278.50" x2="279.00" y2="278.50" stroke="#3d6090" stroke-width="0.9"/>
<line x1="275.00" y1="286.80" x2="279.00" y2="286.80" stroke="#3d6090" stroke-width="0.9"/>
<circle cx="277.00" cy="282.70" r="2.1" fill="#1b4070"/>
<line x1="298.50" y1="279.50" x2="298.50" y2="288.00" stroke="#3d6090" stroke-width="0.9"/>
<line x1="296.50" y1="279.50" x2="300.50" y2="279.50" stroke="#3d6090" stroke-width="0.9"/>
<line x1="296.50" y1="288.00" x2="300.50" y2="288.00" stroke="#3d6090" stroke-width="0.9"/>
<circle cx="298.50" cy="283.80" r="2.1" fill="#1b4070"/>
<line x1="319.90" y1="278.50" x2="319.90" y2="286.30" stroke="#3d6090" stroke-width="0.9"/>
<line x1="317.90" y1="278.50" x2="321.90" y2="278.50" stroke="#3d6090" stroke-width="0.9"/>
<line x1="317.90" y1="286.30" x2="321.90" y2="286.30" stroke="#3d6090" stroke-width="0.9"/>
<circle cx="319.90" cy="282.30" r="2.1" fill="#1b4070"/>
<line x1="341.40" y1="278.50" x2="341.40" y2="287.00" stroke="#3d6090" stroke-width="0.9"/>
<line x1="339.40" y1="278.50" x2="343.40" y2="278.50" stroke="#3d6090" stroke-width="0.9"/>
<line x1="339.40" y1="287.00" x2="343.40" y2="287.00" stroke="#3d6090" stroke-width="0.9"/>
<circle cx="341.40" cy="282.70" r="2.1" fill="#1b4070"/>
<line x1="398.50" y1="239.10" x2="398.50" y2="357.50" stroke="#2a2a2a" stroke-width="1.2"/>
<line x1="395.50" y1="356.90" x2="398.50" y2="356.90" stroke="#2a2a2a" stroke-width="1"/>
<text x="392.2" y="359.29999999999995" font-size="6.8" text-anchor="end" textLength="4.03" lengthAdjust="spacingAndGlyphs" fill="#222" class="tk">0</text>
<line x1="395.50" y1="333.94" x2="398.50" y2="333.94" stroke="#2a2a2a" stroke-width="1"/>
<text x="392.2" y="336.34" font-size="6.8" text-anchor="end" textLength="8.06" lengthAdjust="spacingAndGlyphs" fill="#222" class="tk">20</text>
<line x1="395.50" y1="310.98" x2="398.50" y2="310.98" stroke="#2a2a2a" stroke-width="1"/>
<text x="392.2" y="313.37999999999994" font-size="6.8" text-anchor="end" textLength="8.06" lengthAdjust="spacingAndGlyphs" fill="#222" class="tk">40</text>
<line x1="395.50" y1="288.02" x2="398.50" y2="288.02" stroke="#2a2a2a" stroke-width="1"/>
<text x="392.2" y="290.41999999999996" font-size="6.8" text-anchor="end" textLength="8.06" lengthAdjust="spacingAndGlyphs" fill="#222" class="tk">60</text>
<line x1="395.50" y1="265.06" x2="398.50" y2="265.06" stroke="#2a2a2a" stroke-width="1"/>
<text x="392.2" y="267.46" font-size="6.8" text-anchor="end" textLength="8.06" lengthAdjust="spacingAndGlyphs" fill="#222" class="tk">80</text>
<line x1="395.50" y1="242.10" x2="398.50" y2="242.10" stroke="#2a2a2a" stroke-width="1"/>
<text x="392.2" y="244.5" font-size="6.8" text-anchor="end" textLength="12.09" lengthAdjust="spacingAndGlyphs" fill="#222" class="tk">100</text>
<line x1="396.50" y1="345.42" x2="398.50" y2="345.42" stroke="#2a2a2a" stroke-width="1"/>
<line x1="396.50" y1="322.46" x2="398.50" y2="322.46" stroke="#2a2a2a" stroke-width="1"/>
<line x1="396.50" y1="299.50" x2="398.50" y2="299.50" stroke="#2a2a2a" stroke-width="1"/>
<line x1="396.50" y1="276.54" x2="398.50" y2="276.54" stroke="#2a2a2a" stroke-width="1"/>
<line x1="396.50" y1="253.58" x2="398.50" y2="253.58" stroke="#2a2a2a" stroke-width="1"/>
<line x1="398.50" y1="356.90" x2="513.00" y2="356.90" stroke="#2a2a2a" stroke-width="1"/>
<line x1="412.30" y1="356.90" x2="412.30" y2="359.10" stroke="#2a2a2a" stroke-width="0.9"/>
<text x="412.3" y="369.59999999999997" font-size="6.8" text-anchor="middle" textLength="4.0" lengthAdjust="spacingAndGlyphs" fill="#222" class="tk">0</text>
<line x1="433.80" y1="356.90" x2="433.80" y2="359.10" stroke="#2a2a2a" stroke-width="0.9"/>
<text x="433.8" y="369.59999999999997" font-size="6.8" text-anchor="middle" textLength="4.0" lengthAdjust="spacingAndGlyphs" fill="#222" class="tk">4</text>
<line x1="455.30" y1="356.90" x2="455.30" y2="359.10" stroke="#2a2a2a" stroke-width="0.9"/>
<text x="455.3" y="369.59999999999997" font-size="6.8" text-anchor="middle" textLength="4.0" lengthAdjust="spacingAndGlyphs" fill="#222" class="tk">8</text>
<line x1="476.90" y1="356.90" x2="476.90" y2="359.10" stroke="#2a2a2a" stroke-width="0.9"/>
<text x="476.9" y="369.59999999999997" font-size="6.8" text-anchor="middle" textLength="8.0" lengthAdjust="spacingAndGlyphs" fill="#222" class="tk">12</text>
<line x1="498.50" y1="356.90" x2="498.50" y2="359.10" stroke="#2a2a2a" stroke-width="0.9"/>
<text x="498.5" y="369.59999999999997" font-size="6.8" text-anchor="middle" textLength="8.0" lengthAdjust="spacingAndGlyphs" fill="#222" class="tk">16</text>
<text x="455.9" y="382.4" font-size="8.2" font-weight="bold" text-anchor="middle" textLength="62.4" lengthAdjust="spacingAndGlyphs" fill="#222">Weeks after poly (I:C)</text>
<text transform="translate(372.6,298.2) rotate(-90)" font-size="8.6" stroke="#333" stroke-width="0.15" text-anchor="middle" textLength="79" lengthAdjust="spacingAndGlyphs" fill="#222">% donor-derived (CD45.2<tspan font-size="5.5" dy="-2.6">+</tspan><tspan dy="2.6">)</tspan></text>
<text x="441" y="231.0" font-size="8.9" text-anchor="middle" fill="#222">T cells</text>
<polyline points="412.30,347.30 433.80,306.90 455.30,300.50 476.90,303.50 498.50,305.30" fill="none" stroke="#c0102e" stroke-width="1.15"/>
<line x1="412.30" y1="345.00" x2="412.30" y2="349.60" stroke="#c24a5c" stroke-width="0.9"/>
<line x1="410.30" y1="345.00" x2="414.30" y2="345.00" stroke="#c24a5c" stroke-width="0.9"/>
<line x1="410.30" y1="349.60" x2="414.30" y2="349.60" stroke="#c24a5c" stroke-width="0.9"/>
<circle cx="412.30" cy="347.30" r="2.1" fill="#c0102e"/>
<line x1="433.80" y1="303.40" x2="433.80" y2="310.40" stroke="#c24a5c" stroke-width="0.9"/>
<line x1="431.80" y1="303.40" x2="435.80" y2="303.40" stroke="#c24a5c" stroke-width="0.9"/>
<line x1="431.80" y1="310.40" x2="435.80" y2="310.40" stroke="#c24a5c" stroke-width="0.9"/>
<circle cx="433.80" cy="306.90" r="2.1" fill="#c0102e"/>
<line x1="455.30" y1="296.80" x2="455.30" y2="304.20" stroke="#c24a5c" stroke-width="0.9"/>
<line x1="453.30" y1="296.80" x2="457.30" y2="296.80" stroke="#c24a5c" stroke-width="0.9"/>
<line x1="453.30" y1="304.20" x2="457.30" y2="304.20" stroke="#c24a5c" stroke-width="0.9"/>
<circle cx="455.30" cy="300.50" r="2.1" fill="#c0102e"/>
<line x1="476.90" y1="298.50" x2="476.90" y2="308.50" stroke="#c24a5c" stroke-width="0.9"/>
<line x1="474.90" y1="298.50" x2="478.90" y2="298.50" stroke="#c24a5c" stroke-width="0.9"/>
<line x1="474.90" y1="308.50" x2="478.90" y2="308.50" stroke="#c24a5c" stroke-width="0.9"/>
<circle cx="476.90" cy="303.50" r="2.1" fill="#c0102e"/>
<line x1="498.50" y1="299.50" x2="498.50" y2="311.10" stroke="#c24a5c" stroke-width="0.9"/>
<line x1="496.50" y1="299.50" x2="500.50" y2="299.50" stroke="#c24a5c" stroke-width="0.9"/>
<line x1="496.50" y1="311.10" x2="500.50" y2="311.10" stroke="#c24a5c" stroke-width="0.9"/>
<circle cx="498.50" cy="305.30" r="2.1" fill="#c0102e"/>
<polyline points="412.30,345.50 433.80,304.60 455.30,298.80 476.90,296.10 498.50,294.90" fill="none" stroke="#1b4070" stroke-width="1.15"/>
<line x1="412.30" y1="343.00" x2="412.30" y2="348.00" stroke="#3d6090" stroke-width="0.9"/>
<line x1="410.30" y1="343.00" x2="414.30" y2="343.00" stroke="#3d6090" stroke-width="0.9"/>
<line x1="410.30" y1="348.00" x2="414.30" y2="348.00" stroke="#3d6090" stroke-width="0.9"/>
<circle cx="412.30" cy="345.50" r="2.1" fill="#1b4070"/>
<line x1="433.80" y1="302.80" x2="433.80" y2="306.80" stroke="#3d6090" stroke-width="0.9"/>
<line x1="431.80" y1="302.80" x2="435.80" y2="302.80" stroke="#3d6090" stroke-width="0.9"/>
<line x1="431.80" y1="306.80" x2="435.80" y2="306.80" stroke="#3d6090" stroke-width="0.9"/>
<circle cx="433.80" cy="304.60" r="2.1" fill="#1b4070"/>
<line x1="455.30" y1="294.90" x2="455.30" y2="302.00" stroke="#3d6090" stroke-width="0.9"/>
<line x1="453.30" y1="294.90" x2="457.30" y2="294.90" stroke="#3d6090" stroke-width="0.9"/>
<line x1="453.30" y1="302.00" x2="457.30" y2="302.00" stroke="#3d6090" stroke-width="0.9"/>
<circle cx="455.30" cy="298.80" r="2.1" fill="#1b4070"/>
<line x1="476.90" y1="291.20" x2="476.90" y2="301.00" stroke="#3d6090" stroke-width="0.9"/>
<line x1="474.90" y1="291.20" x2="478.90" y2="291.20" stroke="#3d6090" stroke-width="0.9"/>
<line x1="474.90" y1="301.00" x2="478.90" y2="301.00" stroke="#3d6090" stroke-width="0.9"/>
<circle cx="476.90" cy="296.10" r="2.1" fill="#1b4070"/>
<line x1="498.50" y1="289.20" x2="498.50" y2="300.60" stroke="#3d6090" stroke-width="0.9"/>
<line x1="496.50" y1="289.20" x2="500.50" y2="289.20" stroke="#3d6090" stroke-width="0.9"/>
<line x1="496.50" y1="300.60" x2="500.50" y2="300.60" stroke="#3d6090" stroke-width="0.9"/>
<circle cx="498.50" cy="294.90" r="2.1" fill="#1b4070"/>
<line x1="241.20" y1="437.00" x2="241.20" y2="555.20" stroke="#2a2a2a" stroke-width="1.2"/>
<line x1="238.20" y1="554.60" x2="241.20" y2="554.60" stroke="#2a2a2a" stroke-width="1"/>
<text x="234.89999999999998" y="557.0" font-size="6.8" text-anchor="end" textLength="4.03" lengthAdjust="spacingAndGlyphs" fill="#222" class="tk">0</text>
<line x1="238.20" y1="531.68" x2="241.20" y2="531.68" stroke="#2a2a2a" stroke-width="1"/>
<text x="234.89999999999998" y="534.08" font-size="6.8" text-anchor="end" textLength="8.06" lengthAdjust="spacingAndGlyphs" fill="#222" class="tk">20</text>
<line x1="238.20" y1="508.76" x2="241.20" y2="508.76" stroke="#2a2a2a" stroke-width="1"/>
<text x="234.89999999999998" y="511.15999999999997" font-size="6.8" text-anchor="end" textLength="8.06" lengthAdjust="spacingAndGlyphs" fill="#222" class="tk">40</text>
<line x1="238.20" y1="485.84" x2="241.20" y2="485.84" stroke="#2a2a2a" stroke-width="1"/>
<text x="234.89999999999998" y="488.24" font-size="6.8" text-anchor="end" textLength="8.06" lengthAdjust="spacingAndGlyphs" fill="#222" class="tk">60</text>
<line x1="238.20" y1="462.92" x2="241.20" y2="462.92" stroke="#2a2a2a" stroke-width="1"/>
<text x="234.89999999999998" y="465.32" font-size="6.8" text-anchor="end" textLength="8.06" lengthAdjust="spacingAndGlyphs" fill="#222" class="tk">80</text>
<line x1="238.20" y1="440.00" x2="241.20" y2="440.00" stroke="#2a2a2a" stroke-width="1"/>
<text x="234.89999999999998" y="442.4" font-size="6.8" text-anchor="end" textLength="12.09" lengthAdjust="spacingAndGlyphs" fill="#222" class="tk">100</text>
<line x1="239.20" y1="543.14" x2="241.20" y2="543.14" stroke="#2a2a2a" stroke-width="1"/>
<line x1="239.20" y1="520.22" x2="241.20" y2="520.22" stroke="#2a2a2a" stroke-width="1"/>
<line x1="239.20" y1="497.30" x2="241.20" y2="497.30" stroke="#2a2a2a" stroke-width="1"/>
<line x1="239.20" y1="474.38" x2="241.20" y2="474.38" stroke="#2a2a2a" stroke-width="1"/>
<line x1="239.20" y1="451.46" x2="241.20" y2="451.46" stroke="#2a2a2a" stroke-width="1"/>
<line x1="241.20" y1="554.60" x2="355.40" y2="554.60" stroke="#2a2a2a" stroke-width="1"/>
<line x1="255.80" y1="554.60" x2="255.80" y2="556.80" stroke="#2a2a2a" stroke-width="0.9"/>
<text x="255.8" y="567.3000000000001" font-size="6.8" text-anchor="middle" textLength="4.0" lengthAdjust="spacingAndGlyphs" fill="#222" class="tk">0</text>
<line x1="277.10" y1="554.60" x2="277.10" y2="556.80" stroke="#2a2a2a" stroke-width="0.9"/>
<text x="277.1" y="567.3000000000001" font-size="6.8" text-anchor="middle" textLength="4.0" lengthAdjust="spacingAndGlyphs" fill="#222" class="tk">4</text>
<line x1="298.50" y1="554.60" x2="298.50" y2="556.80" stroke="#2a2a2a" stroke-width="0.9"/>
<text x="298.5" y="567.3000000000001" font-size="6.8" text-anchor="middle" textLength="4.0" lengthAdjust="spacingAndGlyphs" fill="#222" class="tk">8</text>
<line x1="320.00" y1="554.60" x2="320.00" y2="556.80" stroke="#2a2a2a" stroke-width="0.9"/>
<text x="320.0" y="567.3000000000001" font-size="6.8" text-anchor="middle" textLength="8.0" lengthAdjust="spacingAndGlyphs" fill="#222" class="tk">12</text>
<line x1="341.50" y1="554.60" x2="341.50" y2="556.80" stroke="#2a2a2a" stroke-width="0.9"/>
<text x="341.5" y="567.3000000000001" font-size="6.8" text-anchor="middle" textLength="8.0" lengthAdjust="spacingAndGlyphs" fill="#222" class="tk">16</text>
<text x="299.15" y="580.1" font-size="8.2" font-weight="bold" text-anchor="middle" textLength="62.4" lengthAdjust="spacingAndGlyphs" fill="#222">Weeks after poly (I:C)</text>
<text transform="translate(215.29999999999998,496.0) rotate(-90)" font-size="8.6" stroke="#333" stroke-width="0.15" text-anchor="middle" textLength="79" lengthAdjust="spacingAndGlyphs" fill="#222">% donor-derived (CD45.2<tspan font-size="5.5" dy="-2.6">+</tspan><tspan dy="2.6">)</tspan></text>
<text x="299" y="429.2" font-size="8.9" text-anchor="middle" fill="#222">Granulocytes</text>
<polyline points="255.80,492.30 277.10,515.40 298.50,519.30 320.00,520.50 341.50,518.40" fill="none" stroke="#c0102e" stroke-width="1.15"/>
<line x1="255.80" y1="489.50" x2="255.80" y2="495.00" stroke="#c24a5c" stroke-width="0.9"/>
<line x1="253.80" y1="489.50" x2="257.80" y2="489.50" stroke="#c24a5c" stroke-width="0.9"/>
<line x1="253.80" y1="495.00" x2="257.80" y2="495.00" stroke="#c24a5c" stroke-width="0.9"/>
<circle cx="255.80" cy="492.30" r="2.1" fill="#c0102e"/>
<line x1="277.10" y1="507.80" x2="277.10" y2="522.80" stroke="#c24a5c" stroke-width="0.9"/>
<line x1="275.10" y1="507.80" x2="279.10" y2="507.80" stroke="#c24a5c" stroke-width="0.9"/>
<line x1="275.10" y1="522.80" x2="279.10" y2="522.80" stroke="#c24a5c" stroke-width="0.9"/>
<circle cx="277.10" cy="515.40" r="2.1" fill="#c0102e"/>
<line x1="298.50" y1="513.50" x2="298.50" y2="525.30" stroke="#c24a5c" stroke-width="0.9"/>
<line x1="296.50" y1="513.50" x2="300.50" y2="513.50" stroke="#c24a5c" stroke-width="0.9"/>
<line x1="296.50" y1="525.30" x2="300.50" y2="525.30" stroke="#c24a5c" stroke-width="0.9"/>
<circle cx="298.50" cy="519.30" r="2.1" fill="#c0102e"/>
<line x1="320.00" y1="514.90" x2="320.00" y2="526.50" stroke="#c24a5c" stroke-width="0.9"/>
<line x1="318.00" y1="514.90" x2="322.00" y2="514.90" stroke="#c24a5c" stroke-width="0.9"/>
<line x1="318.00" y1="526.50" x2="322.00" y2="526.50" stroke="#c24a5c" stroke-width="0.9"/>
<circle cx="320.00" cy="520.50" r="2.1" fill="#c0102e"/>
<line x1="341.50" y1="511.90" x2="341.50" y2="525.10" stroke="#c24a5c" stroke-width="0.9"/>
<line x1="339.50" y1="511.90" x2="343.50" y2="511.90" stroke="#c24a5c" stroke-width="0.9"/>
<line x1="339.50" y1="525.10" x2="343.50" y2="525.10" stroke="#c24a5c" stroke-width="0.9"/>
<circle cx="341.50" cy="518.40" r="2.1" fill="#c0102e"/>
<polyline points="255.80,487.70 277.10,492.30 298.50,478.90 320.00,469.90 341.50,465.30" fill="none" stroke="#1b4070" stroke-width="1.15"/>
<line x1="255.80" y1="482.60" x2="255.80" y2="492.80" stroke="#3d6090" stroke-width="0.9"/>
<line x1="253.80" y1="482.60" x2="257.80" y2="482.60" stroke="#3d6090" stroke-width="0.9"/>
<line x1="253.80" y1="492.80" x2="257.80" y2="492.80" stroke="#3d6090" stroke-width="0.9"/>
<circle cx="255.80" cy="487.70" r="2.1" fill="#1b4070"/>
<line x1="277.10" y1="483.10" x2="277.10" y2="502.70" stroke="#3d6090" stroke-width="0.9"/>
<line x1="275.10" y1="483.10" x2="279.10" y2="483.10" stroke="#3d6090" stroke-width="0.9"/>
<line x1="275.10" y1="502.70" x2="279.10" y2="502.70" stroke="#3d6090" stroke-width="0.9"/>
<circle cx="277.10" cy="492.30" r="2.1" fill="#1b4070"/>
<line x1="298.50" y1="470.40" x2="298.50" y2="487.70" stroke="#3d6090" stroke-width="0.9"/>
<line x1="296.50" y1="470.40" x2="300.50" y2="470.40" stroke="#3d6090" stroke-width="0.9"/>
<line x1="296.50" y1="487.70" x2="300.50" y2="487.70" stroke="#3d6090" stroke-width="0.9"/>
<circle cx="298.50" cy="478.90" r="2.1" fill="#1b4070"/>
<line x1="320.00" y1="463.90" x2="320.00" y2="476.60" stroke="#3d6090" stroke-width="0.9"/>
<line x1="318.00" y1="463.90" x2="322.00" y2="463.90" stroke="#3d6090" stroke-width="0.9"/>
<line x1="318.00" y1="476.60" x2="322.00" y2="476.60" stroke="#3d6090" stroke-width="0.9"/>
<circle cx="320.00" cy="469.90" r="2.1" fill="#1b4070"/>
<line x1="341.50" y1="459.50" x2="341.50" y2="470.80" stroke="#3d6090" stroke-width="0.9"/>
<line x1="339.50" y1="459.50" x2="343.50" y2="459.50" stroke="#3d6090" stroke-width="0.9"/>
<line x1="339.50" y1="470.80" x2="343.50" y2="470.80" stroke="#3d6090" stroke-width="0.9"/>
<circle cx="341.50" cy="465.30" r="2.1" fill="#1b4070"/>
<text x="298.5" y="470.0" font-size="6.6" text-anchor="middle" fill="#111">**</text>
<text x="320.0" y="463.8" font-size="6.6" text-anchor="middle" fill="#111">****</text>
<text x="341.5" y="459.90000000000003" font-size="6.6" text-anchor="middle" fill="#111">****</text>
<line x1="398.50" y1="436.50" x2="398.50" y2="555.00" stroke="#2a2a2a" stroke-width="1.2"/>
<line x1="395.50" y1="554.40" x2="398.50" y2="554.40" stroke="#2a2a2a" stroke-width="1"/>
<text x="392.2" y="556.8" font-size="6.8" text-anchor="end" textLength="4.03" lengthAdjust="spacingAndGlyphs" fill="#222" class="tk">0</text>
<line x1="395.50" y1="531.42" x2="398.50" y2="531.42" stroke="#2a2a2a" stroke-width="1"/>
<text x="392.2" y="533.8199999999999" font-size="6.8" text-anchor="end" textLength="8.06" lengthAdjust="spacingAndGlyphs" fill="#222" class="tk">20</text>
<line x1="395.50" y1="508.44" x2="398.50" y2="508.44" stroke="#2a2a2a" stroke-width="1"/>
<text x="392.2" y="510.84" font-size="6.8" text-anchor="end" textLength="8.06" lengthAdjust="spacingAndGlyphs" fill="#222" class="tk">40</text>
<line x1="395.50" y1="485.46" x2="398.50" y2="485.46" stroke="#2a2a2a" stroke-width="1"/>
<text x="392.2" y="487.85999999999996" font-size="6.8" text-anchor="end" textLength="8.06" lengthAdjust="spacingAndGlyphs" fill="#222" class="tk">60</text>
<line x1="395.50" y1="462.48" x2="398.50" y2="462.48" stroke="#2a2a2a" stroke-width="1"/>
<text x="392.2" y="464.88" font-size="6.8" text-anchor="end" textLength="8.06" lengthAdjust="spacingAndGlyphs" fill="#222" class="tk">80</text>
<line x1="395.50" y1="439.50" x2="398.50" y2="439.50" stroke="#2a2a2a" stroke-width="1"/>
<text x="392.2" y="441.9" font-size="6.8" text-anchor="end" textLength="12.09" lengthAdjust="spacingAndGlyphs" fill="#222" class="tk">100</text>
<line x1="396.50" y1="542.91" x2="398.50" y2="542.91" stroke="#2a2a2a" stroke-width="1"/>
<line x1="396.50" y1="519.93" x2="398.50" y2="519.93" stroke="#2a2a2a" stroke-width="1"/>
<line x1="396.50" y1="496.95" x2="398.50" y2="496.95" stroke="#2a2a2a" stroke-width="1"/>
<line x1="396.50" y1="473.97" x2="398.50" y2="473.97" stroke="#2a2a2a" stroke-width="1"/>
<line x1="396.50" y1="450.99" x2="398.50" y2="450.99" stroke="#2a2a2a" stroke-width="1"/>
<line x1="398.50" y1="554.40" x2="513.00" y2="554.40" stroke="#2a2a2a" stroke-width="1"/>
<line x1="412.40" y1="554.40" x2="412.40" y2="556.60" stroke="#2a2a2a" stroke-width="0.9"/>
<text x="412.4" y="567.1" font-size="6.8" text-anchor="middle" textLength="4.0" lengthAdjust="spacingAndGlyphs" fill="#222" class="tk">0</text>
<line x1="433.90" y1="554.40" x2="433.90" y2="556.60" stroke="#2a2a2a" stroke-width="0.9"/>
<text x="433.9" y="567.1" font-size="6.8" text-anchor="middle" textLength="4.0" lengthAdjust="spacingAndGlyphs" fill="#222" class="tk">4</text>
<line x1="455.60" y1="554.40" x2="455.60" y2="556.60" stroke="#2a2a2a" stroke-width="0.9"/>
<text x="455.6" y="567.1" font-size="6.8" text-anchor="middle" textLength="4.0" lengthAdjust="spacingAndGlyphs" fill="#222" class="tk">8</text>
<line x1="477.10" y1="554.40" x2="477.10" y2="556.60" stroke="#2a2a2a" stroke-width="0.9"/>
<text x="477.1" y="567.1" font-size="6.8" text-anchor="middle" textLength="8.0" lengthAdjust="spacingAndGlyphs" fill="#222" class="tk">12</text>
<line x1="498.60" y1="554.40" x2="498.60" y2="556.60" stroke="#2a2a2a" stroke-width="0.9"/>
<text x="498.6" y="567.1" font-size="6.8" text-anchor="middle" textLength="8.0" lengthAdjust="spacingAndGlyphs" fill="#222" class="tk">16</text>
<text x="456.0" y="579.9" font-size="8.2" font-weight="bold" text-anchor="middle" textLength="62.4" lengthAdjust="spacingAndGlyphs" fill="#222">Weeks after poly (I:C)</text>
<text transform="translate(372.6,495.65) rotate(-90)" font-size="8.6" stroke="#333" stroke-width="0.15" text-anchor="middle" textLength="79" lengthAdjust="spacingAndGlyphs" fill="#222">% donor-derived (CD45.2<tspan font-size="5.5" dy="-2.6">+</tspan><tspan dy="2.6">)</tspan></text>
<text x="456" y="428.6" font-size="8.9" text-anchor="middle" fill="#222">Monocytes</text>
<polyline points="412.40,485.40 433.90,504.30 455.60,508.90 477.10,506.20 498.60,506.80" fill="none" stroke="#c0102e" stroke-width="1.15"/>
<line x1="412.40" y1="482.60" x2="412.40" y2="489.50" stroke="#c24a5c" stroke-width="0.9"/>
<line x1="410.40" y1="482.60" x2="414.40" y2="482.60" stroke="#c24a5c" stroke-width="0.9"/>
<line x1="410.40" y1="489.50" x2="414.40" y2="489.50" stroke="#c24a5c" stroke-width="0.9"/>
<circle cx="412.40" cy="485.40" r="2.1" fill="#c0102e"/>
<line x1="433.90" y1="496.90" x2="433.90" y2="511.90" stroke="#c24a5c" stroke-width="0.9"/>
<line x1="431.90" y1="496.90" x2="435.90" y2="496.90" stroke="#c24a5c" stroke-width="0.9"/>
<line x1="431.90" y1="511.90" x2="435.90" y2="511.90" stroke="#c24a5c" stroke-width="0.9"/>
<circle cx="433.90" cy="504.30" r="2.1" fill="#c0102e"/>
<line x1="455.60" y1="501.50" x2="455.60" y2="515.90" stroke="#c24a5c" stroke-width="0.9"/>
<line x1="453.60" y1="501.50" x2="457.60" y2="501.50" stroke="#c24a5c" stroke-width="0.9"/>
<line x1="453.60" y1="515.90" x2="457.60" y2="515.90" stroke="#c24a5c" stroke-width="0.9"/>
<circle cx="455.60" cy="508.90" r="2.1" fill="#c0102e"/>
<line x1="477.10" y1="499.20" x2="477.10" y2="513.10" stroke="#c24a5c" stroke-width="0.9"/>
<line x1="475.10" y1="499.20" x2="479.10" y2="499.20" stroke="#c24a5c" stroke-width="0.9"/>
<line x1="475.10" y1="513.10" x2="479.10" y2="513.10" stroke="#c24a5c" stroke-width="0.9"/>
<circle cx="477.10" cy="506.20" r="2.1" fill="#c0102e"/>
<line x1="498.60" y1="499.20" x2="498.60" y2="514.70" stroke="#c24a5c" stroke-width="0.9"/>
<line x1="496.60" y1="499.20" x2="500.60" y2="499.20" stroke="#c24a5c" stroke-width="0.9"/>
<line x1="496.60" y1="514.70" x2="500.60" y2="514.70" stroke="#c24a5c" stroke-width="0.9"/>
<circle cx="498.60" cy="506.80" r="2.1" fill="#c0102e"/>
<polyline points="412.40,483.50 433.90,490.50 455.60,476.80 477.10,465.10 498.60,462.80" fill="none" stroke="#1b4070" stroke-width="1.15"/>
<line x1="412.40" y1="475.70" x2="412.40" y2="490.50" stroke="#3d6090" stroke-width="0.9"/>
<line x1="410.40" y1="475.70" x2="414.40" y2="475.70" stroke="#3d6090" stroke-width="0.9"/>
<line x1="410.40" y1="490.50" x2="414.40" y2="490.50" stroke="#3d6090" stroke-width="0.9"/>
<circle cx="412.40" cy="483.50" r="2.1" fill="#1b4070"/>
<line x1="433.90" y1="480.80" x2="433.90" y2="499.70" stroke="#3d6090" stroke-width="0.9"/>
<line x1="431.90" y1="480.80" x2="435.90" y2="480.80" stroke="#3d6090" stroke-width="0.9"/>
<line x1="431.90" y1="499.70" x2="435.90" y2="499.70" stroke="#3d6090" stroke-width="0.9"/>
<circle cx="433.90" cy="490.50" r="2.1" fill="#1b4070"/>
<line x1="455.60" y1="468.10" x2="455.60" y2="485.40" stroke="#3d6090" stroke-width="0.9"/>
<line x1="453.60" y1="468.10" x2="457.60" y2="468.10" stroke="#3d6090" stroke-width="0.9"/>
<line x1="453.60" y1="485.40" x2="457.60" y2="485.40" stroke="#3d6090" stroke-width="0.9"/>
<circle cx="455.60" cy="476.80" r="2.1" fill="#1b4070"/>
<line x1="477.10" y1="458.80" x2="477.10" y2="471.50" stroke="#3d6090" stroke-width="0.9"/>
<line x1="475.10" y1="458.80" x2="479.10" y2="458.80" stroke="#3d6090" stroke-width="0.9"/>
<line x1="475.10" y1="471.50" x2="479.10" y2="471.50" stroke="#3d6090" stroke-width="0.9"/>
<circle cx="477.10" cy="465.10" r="2.1" fill="#1b4070"/>
<line x1="498.60" y1="457.20" x2="498.60" y2="468.10" stroke="#3d6090" stroke-width="0.9"/>
<line x1="496.60" y1="457.20" x2="500.60" y2="457.20" stroke="#3d6090" stroke-width="0.9"/>
<line x1="496.60" y1="468.10" x2="500.60" y2="468.10" stroke="#3d6090" stroke-width="0.9"/>
<circle cx="498.60" cy="462.80" r="2.1" fill="#1b4070"/>
<text x="455.6" y="469.1" font-size="6.6" text-anchor="middle" fill="#111">*</text>
<text x="477.1" y="459.2" font-size="6.6" text-anchor="middle" fill="#111">***</text>
<text x="498.6" y="457.6" font-size="6.6" text-anchor="middle" fill="#111">***</text>
</svg>
</body></html>
